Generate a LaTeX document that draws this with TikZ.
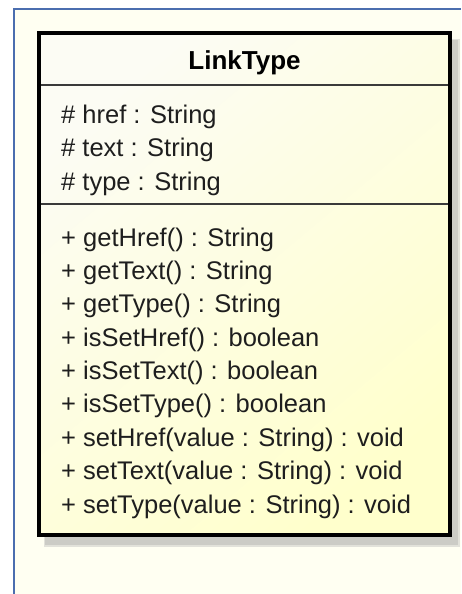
\documentclass[tikz,border=0pt]{standalone}
\usepackage{fontspec}
\setmainfont{Liberation Sans}
\definecolor{canvas}{HTML}{FFFFF2}
\definecolor{frameblue}{HTML}{4B6EAF}
\definecolor{boxlight}{HTML}{FCFCF4}
\definecolor{boxdark}{HTML}{FFFFCC}
\definecolor{shadowin}{HTML}{CCCCC6}
\definecolor{shadowout}{HTML}{E2E2DA}
\definecolor{divider}{HTML}{3A3A3A}
\definecolor{ink}{HTML}{1E1E1E}
\tikzset{
  member/.style={anchor=base west, inner sep=0pt, text=ink,
    font=\fontsize{25.5}{30}\selectfont},
  title/.style={anchor=base, inner sep=0pt, text=black,
    font=\fontsize{26}{30}\selectfont\bfseries},
  sep/.style={draw=divider, line width=1.6pt}
}
\begin{document}
\begin{tikzpicture}[x=1pt, y=-1pt]
  \useasboundingbox (0,0) rectangle (461,594);
  % page and frame
  \fill[white] (0,0) rectangle (461,594);
  \fill[canvas] (14,9) rectangle (461,594);
  \draw[frameblue, line width=1.5pt] (14,594) -- (14,9) -- (461,9);
  % drop shadow
  \fill[shadowout] (44,39) rectangle (460,547);
  \fill[shadowin] (45,40) rectangle (458,545);
  % class box
  \shade[left color=boxlight, right color=boxdark, shading angle=40]
    (39,33) rectangle (450,535);
  \draw[black, line width=4pt] (39,33) rectangle (450,535);
  \coordinate (d1l) at (41,85);  \coordinate (d1r) at (448,85);
  \coordinate (d2l) at (41,204); \coordinate (d2r) at (448,204);
  \draw[sep] (d1l) -- (d1r);
  \draw[sep] (d2l) -- (d2r);
  % name compartment
  \node[title] (name) at (244.5,70) {LinkType};
  % attributes
  \node[member] (a1) at (61,123) {\# href : String};
  \node[member] (a2) at (61,156.5) {\# text : String};
  \node[member] (a3) at (61,190) {\# type : String};
  % operations
  \node[member] (m1) at (61,246) {+ getHref() : String};
  \node[member] (m2) at (61,279.4) {+ getText() : String};
  \node[member] (m3) at (61,312.8) {+ getType() : String};
  \node[member] (m4) at (61,346.1) {+ isSetHref() : boolean};
  \node[member] (m5) at (61,379.5) {+ isSetText() : boolean};
  \node[member] (m6) at (61,412.9) {+ isSetType() : boolean};
  \node[member] (m7) at (61,446.2) {+ setHref(value : String) : void};
  \node[member] (m8) at (61,479.6) {+ setText(value : String) : void};
  \node[member] (m9) at (61,513) {+ setType(value : String) : void};
\end{tikzpicture}
\end{document}
